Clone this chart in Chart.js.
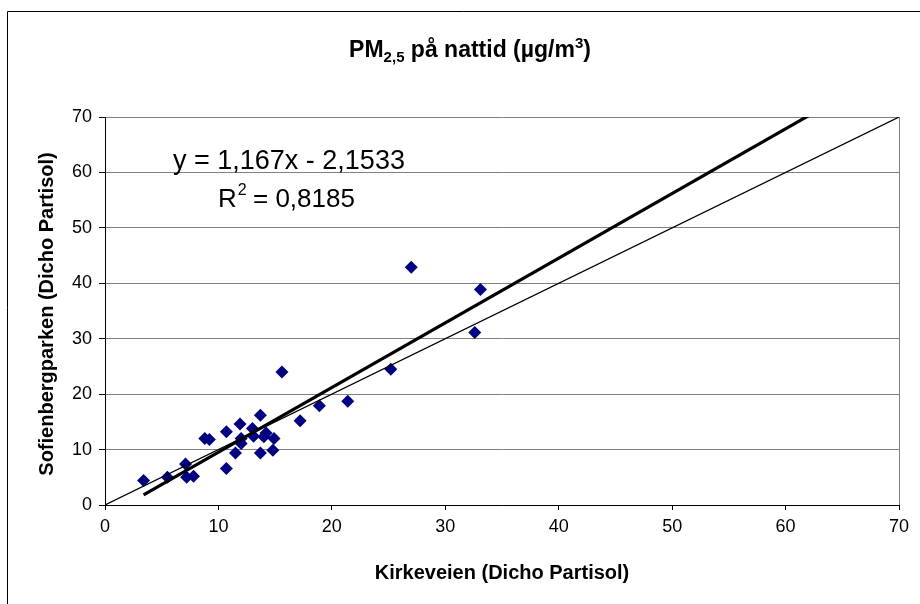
<!DOCTYPE html>
<html>
<head>
<meta charset="utf-8">
<script src="https://cdn.jsdelivr.net/npm/chart.js@4.4.0/dist/chart.umd.min.js"></script>
<style>
  html, body { margin:0; padding:0; background:#fff; overflow:hidden; }
  #wrap { width:920px; height:604px; position:relative; }
</style>
</head>
<body>
<div id="wrap"><canvas id="c" width="920" height="604"></canvas></div>
<script>
// Kirkeveien (x) vs Sofienbergparken (y), PM2.5 night values
const kirkeveien = [3.4, 5.5, 7.1, 7.2, 7.8, 8.8, 9.2, 10.7, 10.7, 11.5, 11.9, 12.0, 12.0, 13.0, 13.1,
  13.7, 13.7, 14.0, 14.2, 14.8, 14.9, 15.6, 17.2, 18.9, 21.4, 25.2, 27.0, 32.6, 33.1];
const sofienberg = [4.4, 5.0, 7.4, 5.0, 5.2, 12.0, 11.8, 13.2, 6.6, 9.4, 14.6, 12.0, 11.1, 13.8, 12.4,
  16.2, 9.4, 12.3, 13.0, 9.9, 12.0, 24.0, 15.2, 17.9, 18.7, 24.5, 42.9, 31.1, 38.9];

// trend line from the Excel equation
const slope = 1.167, intercept = -2.1533, r2 = 0.8185;
const axisMin = 0, axisMax = 70, axisStep = 10;

const FONT = '"Liberation Sans", Arial, sans-serif';

const pts = kirkeveien.map((x, i) => ({ x, y: sofienberg[i] }));
const xStart = Math.min(...kirkeveien);
const trend = [xStart, axisMax].map(x => ({ x, y: slope * x + intercept }));
const oneToOne = [axisMin, axisMax].map(v => ({ x: v, y: v }));

const fmt = v => String(v).replace('.', ',');

const decor = {
  id: 'decor',
  beforeDraw(chart) {
    const { ctx } = chart;
    ctx.save();
    ctx.fillStyle = '#fff';
    ctx.fillRect(0, 0, chart.width, chart.height);
    ctx.strokeStyle = '#000'; ctx.lineWidth = 1;
    ctx.beginPath();
    ctx.moveTo(7.5, chart.height); ctx.lineTo(7.5, 11.5); ctx.lineTo(chart.width, 11.5);
    ctx.stroke();
    ctx.restore();
  },
  afterDatasetsDraw(chart) {
    const { ctx, chartArea: a } = chart;
    ctx.save();
    // right border of plot area
    ctx.strokeStyle = '#808080'; ctx.lineWidth = 1;
    ctx.beginPath(); ctx.moveTo(Math.round(a.right) + 0.5, a.top); ctx.lineTo(Math.round(a.right) + 0.5, a.bottom); ctx.stroke();

    ctx.fillStyle = '#000';
    ctx.textBaseline = 'alphabetic';

    // title with sub/superscript
    const big = 'bold 23px ' + FONT, small = 'bold 15px ' + FONT;
    const parts = [['PM', big, 0], ['2,5', small, 5], [' på nattid (µg/m', big, 0], ['3', small, -9], [')', big, 0]];
    let w = 0;
    parts.forEach(p => { ctx.font = p[1]; w += ctx.measureText(p[0]).width; });
    let x = 470 - w / 2;
    parts.forEach(p => { ctx.font = p[1]; ctx.textAlign = 'left'; ctx.fillText(p[0], x, 57 + p[2]); x += ctx.measureText(p[0]).width; });

    // axis titles
    ctx.font = 'bold 20px ' + FONT;
    ctx.textAlign = 'center';
    ctx.fillText('Kirkeveien (Dicho Partisol)', 502, 579);
    ctx.save();
    ctx.translate(53, (a.top + a.bottom) / 2 + 3);
    ctx.rotate(-Math.PI / 2);
    ctx.fillText('Sofienbergparken (Dicho Partisol)', 0, 0);
    ctx.restore();

    // regression equation
    ctx.font = '27px ' + FONT;
    ctx.textAlign = 'left';
    ctx.fillText('y = ' + fmt(slope) + 'x - ' + fmt(-intercept), 173, 169);
    ctx.font = '26px ' + FONT;
    ctx.fillText('R', 218, 207);
    const rw = ctx.measureText('R').width;
    ctx.font = '16px ' + FONT;
    ctx.fillText('2', 218 + rw + 1, 195);
    ctx.font = '26px ' + FONT;
    ctx.fillText(' = ' + fmt(r2), 218 + rw + 9, 207);
    ctx.restore();
  }
};

new Chart(document.getElementById('c'), {
  type: 'scatter',
  data: {
    datasets: [
      { label: 'trend', data: trend, showLine: true, borderColor: '#000', borderWidth: 3.2, pointRadius: 0, order: 0 },
      { label: '1:1', data: oneToOne, showLine: true, borderColor: '#000', borderWidth: 1.2, pointRadius: 0, order: 0 },
      { label: 'PM2.5', data: pts, pointStyle: 'rectRot', radius: 6.5, backgroundColor: '#000080', borderColor: '#000080', borderWidth: 0, order: 1 },
    ]
  },
  options: {
    responsive: false, animation: false, devicePixelRatio: 1,
    layout: { padding: { left: 55, right: 21, top: 117, bottom: 59 } },
    plugins: { legend: { display: false }, tooltip: { enabled: false }, title: { display: false } },
    scales: {
      x: {
        type: 'linear', min: axisMin, max: axisMax,
        afterFit: s => { s.height = 40; },
        ticks: { stepSize: axisStep, color: '#000', padding: 6, font: { size: 18, family: FONT } },
        grid: { drawOnChartArea: false, drawTicks: true, tickLength: 5, tickColor: '#000' },
        border: { color: '#000', width: 1 },
      },
      y: {
        type: 'linear', min: axisMin, max: axisMax,
        afterFit: s => { s.width = 50; },
        ticks: { stepSize: axisStep, color: '#000', padding: 7, font: { size: 18, family: FONT } },
        grid: { color: '#808080', lineWidth: 1, tickLength: 6, tickColor: '#000' },
        border: { color: '#000', width: 1 },
      },
    },
  },
  plugins: [decor],
});
</script>
</body>
</html>
